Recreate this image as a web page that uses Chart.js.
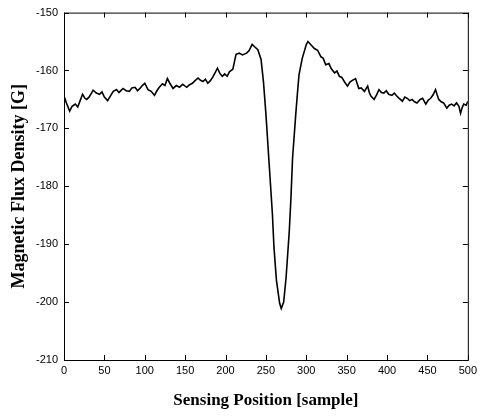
<!DOCTYPE html>
<html>
<head>
<meta charset="utf-8">
<script src="https://cdn.jsdelivr.net/npm/chart.js@4/dist/chart.umd.min.js"></script>
<style>
  html, body { margin: 0; padding: 0; background: #fff; }
  #wrap { width: 481px; height: 416px; }
</style>
</head>
<body>
<div id="wrap"><canvas id="fluxChart"></canvas></div>
<script>
const positions = [0, 3, 7, 10, 14, 17, 20, 23, 26, 28, 31, 34, 36, 40, 44, 47, 50, 54, 57, 61,
  65, 68, 71, 73, 77, 81, 84, 88, 91, 94, 97, 100, 104, 108, 112, 115, 118, 122, 125, 128,
  131, 135, 139, 143, 147, 152, 155, 159, 162, 166, 169, 172, 175, 178, 181, 184, 187, 190, 193, 196,
  199, 202, 205, 209, 211, 213, 217, 221, 226, 229, 233, 236, 240, 244, 247, 250, 254, 258, 260, 263,
  267, 269, 272, 275, 279, 281, 283, 287, 289, 291, 295, 300, 302, 306, 310, 314, 318, 321, 324, 328,
  331, 335, 338, 341, 344, 347, 351, 354, 357, 361, 365, 368, 372, 376, 378, 380, 384, 387, 390, 393,
  396, 399, 402, 406, 409, 412, 415, 419, 422, 425, 428, 431, 434, 437, 441, 444, 448, 451, 454, 457,
  460, 462, 464, 467, 470, 474, 477, 480, 483, 486, 489, 491, 493, 495, 498, 500];
const flux = [-164.4, -165.6, -167.0, -166.2, -165.8, -166.3, -165.2, -164.1, -164.8, -165.0, -164.6, -163.9, -163.4, -163.9, -164.1, -163.7, -164.6, -165.2, -164.5, -163.6,
  -163.3, -163.8, -163.4, -163.1, -163.5, -163.6, -163.0, -162.9, -163.5, -163.1, -162.6, -162.2, -163.3, -163.6, -164.3, -163.5, -162.9, -162.3, -162.6, -161.4,
  -162.2, -163.1, -162.6, -162.9, -162.4, -162.9, -162.5, -162.2, -161.8, -161.3, -161.7, -161.9, -161.5, -162.2, -161.8, -161.2, -160.4, -159.6, -160.5, -161.0,
  -160.6, -161.0, -160.2, -159.8, -158.5, -157.2, -157.0, -157.3, -157.0, -156.6, -155.5, -155.9, -156.4, -158.1, -162.0, -167.5, -176.1, -184.7, -190.6, -196.2,
  -200.2, -201.1, -200.0, -195.7, -187.6, -182.0, -175.1, -167.5, -164.0, -160.7, -157.9, -155.5, -155.0, -155.6, -156.2, -156.5, -157.6, -157.9, -159.0, -158.8,
  -159.7, -160.4, -160.1, -161.0, -161.2, -161.9, -162.7, -162.0, -161.7, -161.4, -163.1, -163.0, -163.6, -162.7, -163.8, -164.4, -165.0, -164.2, -163.3, -163.8,
  -163.9, -163.5, -164.1, -164.3, -163.9, -164.4, -164.8, -165.3, -164.6, -164.8, -165.2, -165.0, -165.4, -165.6, -165.0, -164.8, -165.8, -165.1, -164.8, -164.2,
  -163.3, -164.2, -165.0, -165.4, -165.6, -166.5, -166.0, -165.8, -166.1, -165.6, -166.2, -167.4, -166.4, -165.8, -166.0, -165.3];

const xTicks = [0, 50, 100, 150, 200, 250, 300, 350, 400, 450, 500];
const yTicks = [-210, -200, -190, -180, -170, -160, -150];

// matlab style box with inward ticks on all four sides
const boxTicks = {
  id: 'boxTicks',
  afterDatasetsDraw(chart) {
    const { ctx, chartArea: a, scales: { x, y } } = chart;
    ctx.save();
    ctx.strokeStyle = '#000';
    ctx.lineWidth = 1;
    ctx.strokeRect(a.left + 0.5, a.top + 0.5, a.right - a.left, a.bottom - a.top);
    ctx.beginPath();
    xTicks.forEach(v => {
      const px = Math.round(x.getPixelForValue(v)) + 0.5;
      ctx.moveTo(px, a.bottom); ctx.lineTo(px, a.bottom - 5);
      ctx.moveTo(px, a.top); ctx.lineTo(px, a.top + 5);
    });
    yTicks.forEach(v => {
      const py = Math.round(y.getPixelForValue(v)) + 0.5;
      ctx.moveTo(a.left, py); ctx.lineTo(a.left + 5, py);
      ctx.moveTo(a.right, py); ctx.lineTo(a.right - 5, py);
    });
    ctx.stroke();
    ctx.restore();
  }
};

const tickFont = { family: 'Liberation Sans', size: 11 };

new Chart(document.getElementById('fluxChart'), {
  type: 'line',
  data: {
    datasets: [{
      data: positions.map((p, i) => ({ x: p, y: flux[i] })),
      borderColor: '#000',
      borderWidth: 1.6,
      pointRadius: 0,
      tension: 0,
      fill: false
    }]
  },
  options: {
    responsive: true,
    maintainAspectRatio: false,
    animation: false,
    layout: { padding: { top: 11, right: 12, left: 0, bottom: 0 } },
    plugins: { legend: { display: false }, tooltip: { enabled: false } },
    scales: {
      x: {
        type: 'linear',
        min: 0, max: 500,
        afterBuildTicks: s => { s.ticks = xTicks.map(v => ({ value: v })); },
        afterFit: s => { s.height = 56; },
        grid: { display: false, drawTicks: false },
        border: { display: false },
        ticks: { color: '#000', font: tickFont, padding: 4, maxRotation: 0 },
        title: { display: true, text: 'Sensing Position [sample]', color: '#000', font: { family: 'Liberation Serif', size: 17, weight: 'bold' }, padding: { bottom: 5 } }
      },
      y: {
        min: -210, max: -150,
        afterBuildTicks: s => { s.ticks = yTicks.map(v => ({ value: v })); },
        afterFit: s => { s.width = 64; },
        grid: { display: false, drawTicks: false },
        border: { display: false },
        ticks: { color: '#000', font: tickFont, padding: 6 },
        title: { display: true, text: 'Magnetic Flux Density [G]', color: '#000', font: { family: 'Liberation Serif', size: 18, weight: 'bold' }, padding: { top: 9 } }
      }
    }
  },
  plugins: [boxTicks]
});
</script>
</body>
</html>
